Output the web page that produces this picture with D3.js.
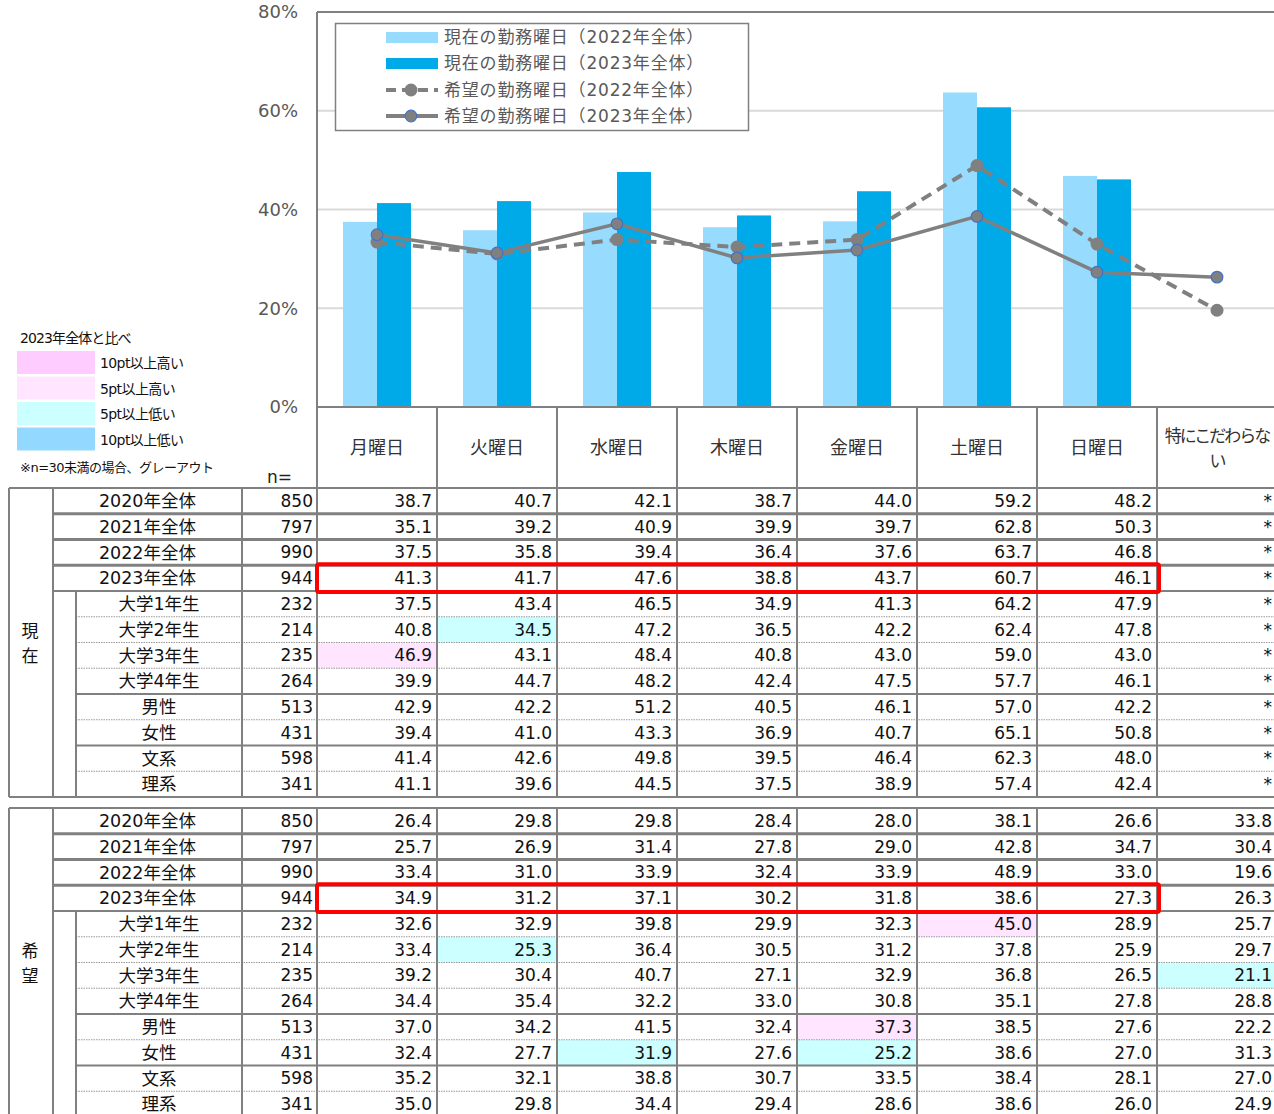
<!DOCTYPE html>
<html>
<head>
<meta charset="utf-8">
<script src="https://cdn.jsdelivr.net/npm/d3@7"></script>
<style>
  body { margin: 0; background: #fff; }
  svg { display: block; font-family: "DejaVu Sans", "Noto Sans CJK JP", sans-serif; }
</style>
</head>
<body>
<div id="chart"></div>
<script>
// categories (days)
let categories = ["月曜日", "火曜日", "水曜日", "木曜日", "金曜日", "土曜日", "日曜日", "特にこだわらない"];

// chart series
let current2022 = [37.5, 35.8, 39.4, 36.4, 37.6, 63.7, 46.8];
let current2023 = [41.3, 41.7, 47.6, 38.8, 43.7, 60.7, 46.1];
let hope2022 = [33.4, 31.0, 33.9, 32.4, 33.9, 48.9, 33.0, 19.6];
let hope2023 = [34.9, 31.2, 37.1, 30.2, 31.8, 38.6, 27.3, 26.3];

let yTicks = [0, 20, 40, 60, 80];
let legendLabels = ["現在の勤務曜日（2022年全体）", "現在の勤務曜日（2023年全体）", "希望の勤務曜日（2022年全体）", "希望の勤務曜日（2023年全体）"];

// table rows
let rowLabels = ["2020年全体", "2021年全体", "2022年全体", "2023年全体", "大学1年生", "大学2年生", "大学3年生", "大学4年生", "男性", "女性", "文系", "理系"];
let rowN = [850, 797, 990, 944, 232, 214, 235, 264, 513, 431, 598, 341];

let currentTable = [
    [38.7, 40.7, 42.1, 38.7, 44.0, 59.2, 48.2, null],
    [35.1, 39.2, 40.9, 39.9, 39.7, 62.8, 50.3, null],
    [37.5, 35.8, 39.4, 36.4, 37.6, 63.7, 46.8, null],
    [41.3, 41.7, 47.6, 38.8, 43.7, 60.7, 46.1, null],
    [37.5, 43.4, 46.5, 34.9, 41.3, 64.2, 47.9, null],
    [40.8, 34.5, 47.2, 36.5, 42.2, 62.4, 47.8, null],
    [46.9, 43.1, 48.4, 40.8, 43.0, 59.0, 43.0, null],
    [39.9, 44.7, 48.2, 42.4, 47.5, 57.7, 46.1, null],
    [42.9, 42.2, 51.2, 40.5, 46.1, 57.0, 42.2, null],
    [39.4, 41.0, 43.3, 36.9, 40.7, 65.1, 50.8, null],
    [41.4, 42.6, 49.8, 39.5, 46.4, 62.3, 48.0, null],
    [41.1, 39.6, 44.5, 37.5, 38.9, 57.4, 42.4, null]
];

let hopeTable = [
    [26.4, 29.8, 29.8, 28.4, 28.0, 38.1, 26.6, 33.8],
    [25.7, 26.9, 31.4, 27.8, 29.0, 42.8, 34.7, 30.4],
    [33.4, 31.0, 33.9, 32.4, 33.9, 48.9, 33.0, 19.6],
    [34.9, 31.2, 37.1, 30.2, 31.8, 38.6, 27.3, 26.3],
    [32.6, 32.9, 39.8, 29.9, 32.3, 45.0, 28.9, 25.7],
    [33.4, 25.3, 36.4, 30.5, 31.2, 37.8, 25.9, 29.7],
    [39.2, 30.4, 40.7, 27.1, 32.9, 36.8, 26.5, 21.1],
    [34.4, 35.4, 32.2, 33.0, 30.8, 35.1, 27.8, 28.8],
    [37.0, 34.2, 41.5, 32.4, 37.3, 38.5, 27.6, 22.2],
    [32.4, 27.7, 31.9, 27.6, 25.2, 38.6, 27.0, 31.3],
    [35.2, 32.1, 38.8, 30.7, 33.5, 38.4, 28.1, 27.0],
    [35.0, 29.8, 34.4, 29.4, 28.6, 38.6, 26.0, 24.9]
];

let keyLabels = ["10pt以上高い", "5pt以上高い", "5pt以上低い", "10pt以上低い"];
let keyColors = ["#ffccff", "#ffe5ff", "#ccffff", "#93d9ff"];

let svgWidth = 1274;
let svgHeight = 1114;

let svg = d3.select("#chart")
    .append("svg")
    .attr("width", svgWidth)
    .attr("height", svgHeight);

let gridColor = "#808080";

// scales
let x = d3.scaleBand().domain(categories).range([317, 1277]);
let xBar = d3.scaleBand().domain(["2022", "2023"]).range([26, 94]);
let y = d3.scaleLinear().domain([0, 80]).range([407, 12]);

// gridlines
svg.append("g")
    .selectAll("line")
    .data(yTicks.filter(d => d > 0 && d < 80))
    .join("line")
    .attr("x1", 317).attr("x2", svgWidth)
    .attr("y1", d => y(d)).attr("y2", d => y(d))
    .attr("stroke", "#d9d9d9")
    .attr("stroke-width", 2);

// y axis labels
let yAxis = svg.append("g")
    .attr("transform", "translate(317,0)")
    .call(d3.axisLeft(y).tickValues(yTicks).tickFormat(d => d + "%").tickSize(0).tickPadding(19));
yAxis.select(".domain").remove();
yAxis.selectAll("text")
    .attr("font-size", 18)
    .attr("fill", "#595959")
    .attr("font-family", "DejaVu Sans, sans-serif");

// bars
let barData = [];
current2022.forEach((v, i) => barData.push({ cat: categories[i], year: "2022", v: v }));
current2023.forEach((v, i) => barData.push({ cat: categories[i], year: "2023", v: v }));

svg.append("g")
    .selectAll("rect")
    .data(barData)
    .join("rect")
    .attr("x", d => x(d.cat) + xBar(d.year))
    .attr("y", d => y(d.v))
    .attr("width", xBar.bandwidth())
    .attr("height", d => y(0) - y(d.v))
    .attr("fill", d => d.year === "2022" ? "#97dbff" : "#00aae9");

// lines
let cx = (d, i) => x(categories[i]) + x.bandwidth() / 2;
let line = d3.line().x(cx).y(d => y(d));

svg.append("path")
    .datum(hope2022)
    .attr("d", line)
    .attr("fill", "none")
    .attr("stroke", "#808080")
    .attr("stroke-width", 4)
    .attr("stroke-dasharray", "11,7");

svg.append("path")
    .datum(hope2023)
    .attr("d", line)
    .attr("fill", "none")
    .attr("stroke", "#808080")
    .attr("stroke-width", 3.5);

svg.append("g")
    .selectAll("circle")
    .data(hope2022)
    .join("circle")
    .attr("cx", cx)
    .attr("cy", d => y(d))
    .attr("r", 6.5)
    .attr("fill", "#808080");

svg.append("g")
    .selectAll("circle")
    .data(hope2023)
    .join("circle")
    .attr("cx", cx)
    .attr("cy", d => y(d))
    .attr("r", 5.8)
    .attr("fill", "#808080")
    .attr("stroke", "#4472c4")
    .attr("stroke-width", 1.2);

// plot frame: top + bottom
svg.append("line").attr("x1", 317).attr("x2", svgWidth).attr("y1", 12).attr("y2", 12)
    .attr("stroke", gridColor).attr("stroke-width", 2);
svg.append("line").attr("x1", 317).attr("x2", svgWidth).attr("y1", 407).attr("y2", 407)
    .attr("stroke", gridColor).attr("stroke-width", 2);

// legend
let legend = svg.append("g");
legend.append("rect")
    .attr("x", 335.5).attr("y", 23.5).attr("width", 413).attr("height", 107)
    .attr("fill", "#fff").attr("stroke", gridColor).attr("stroke-width", 1.5);

let legendY = [37, 63, 90, 116];
legendLabels.forEach((label, i) => {
    let ly = legendY[i];
    if (i < 2) {
        legend.append("rect")
            .attr("x", 386).attr("y", ly - 5).attr("width", 52).attr("height", 11)
            .attr("fill", i === 0 ? "#97dbff" : "#00aae9");
    } else {
        legend.append("line")
            .attr("x1", 386).attr("x2", 438).attr("y1", ly).attr("y2", ly)
            .attr("stroke", "#808080").attr("stroke-width", 4)
            .attr("stroke-dasharray", i === 2 ? "10,6" : null);
        legend.append("circle")
            .attr("cx", 411).attr("cy", ly).attr("r", i === 2 ? 6.5 : 5.8)
            .attr("fill", "#808080")
            .attr("stroke", i === 3 ? "#4472c4" : null)
            .attr("stroke-width", 1.2);
    }
    legend.append("text")
        .attr("x", 444).attr("y", ly).attr("dy", "0.36em")
        .attr("font-size", 17).attr("letter-spacing", 0.8).attr("fill", "#595959")
        .text(label);
});

// header row of table
let headTop = 407, tableTop = 488, rowH = 25.75;

svg.append("g")
    .selectAll("line")
    .data(categories)
    .join("line")
    .attr("x1", d => x(d)).attr("x2", d => x(d))
    .attr("y1", (d, i) => i === 0 ? 12 : headTop)
    .attr("y2", tableTop)
    .attr("stroke", gridColor)
    .attr("stroke-width", 2);

svg.append("g")
    .selectAll("text")
    .data(categories)
    .join("text")
    .attr("x", d => x(d) + x.bandwidth() / 2)
    .attr("y", 448)
    .attr("dy", "0.36em")
    .attr("text-anchor", "middle")
    .attr("font-size", 18)
    .attr("fill", "#333")
    .each(function(d) {
        let t = d3.select(this);
        if (d.length > 6) {
            t.attr("font-size", 17).attr("letter-spacing", -2).attr("dy", null);
            t.append("tspan").attr("x", x(d) + x.bandwidth() / 2).attr("y", 442).text(d.slice(0, 7));
            t.append("tspan").attr("x", x(d) + x.bandwidth() / 2).attr("y", 467).text(d.slice(7));
        } else {
            t.text(d);
        }
    });

svg.append("text")
    .attr("x", 292).attr("y", 477).attr("dy", "0.36em")
    .attr("text-anchor", "end").attr("font-size", 17).attr("fill", "#222")
    .text("n=");

// colour key on the left
let key = svg.append("g");
key.append("text")
    .attr("x", 20).attr("y", 338).attr("dy", "0.36em")
    .attr("font-size", 14).attr("letter-spacing", -0.9).attr("fill", "#111")
    .text("2023年全体と比べ");
keyLabels.forEach((label, i) => {
    let ky = 351 + i * 25.5;
    key.append("rect")
        .attr("x", 17).attr("y", ky).attr("width", 78).attr("height", 23)
        .attr("fill", keyColors[i]);
    key.append("text")
        .attr("x", 100).attr("y", ky + 12).attr("dy", "0.36em")
        .attr("font-size", 14).attr("letter-spacing", -0.6).attr("fill", "#111")
        .text(label);
});
key.append("text")
    .attr("x", 20).attr("y", 467).attr("dy", "0.36em")
    .attr("font-size", 13).attr("letter-spacing", -0.5).attr("fill", "#111")
    .text("※n=30未満の場合、グレーアウト");

// cell colour versus 2023 total row
function cellColor(v, base) {
    if (v == null) return null;
    let diff = v - base;
    if (diff >= 10) return keyColors[0];
    if (diff > 5) return keyColors[1];
    if (diff <= -10) return keyColors[3];
    if (diff < -5) return keyColors[2];
    return null;
}

function drawSection(top, sectionLabel, values) {
    let g = svg.append("g");
    let rowY = i => top + i * rowH;
    let bottom = rowY(rowLabels.length);

    // highlighted cells (sub rows compared with 2023 row)
    values.forEach((row, i) => {
        if (i < 4) return;
        row.forEach((v, j) => {
            let c = cellColor(v, values[3][j]);
            if (c) {
                g.append("rect")
                    .attr("x", x(categories[j])).attr("y", rowY(i))
                    .attr("width", x.bandwidth()).attr("height", rowH)
                    .attr("fill", c);
            }
        });
    });

    // horizontal separators
    rowLabels.forEach((r, i) => {
        if (i === 0) return;
        let ly = rowY(i);
        let x1 = i <= 4 ? 53 : 76;
        let sw = i <= 3 ? 3 : 2;
        let dotted = i > 4 && i !== 8 && i !== 10;
        g.append("line")
            .attr("x1", x1).attr("x2", svgWidth)
            .attr("y1", ly).attr("y2", ly)
            .attr("stroke", dotted ? "#9a9a9a" : gridColor)
            .attr("stroke-width", dotted ? 1.2 : sw)
            .attr("stroke-dasharray", dotted ? "1.5,1" : null);
    });

    // outer box lines
    [top, bottom].forEach(ly => {
        g.append("line")
            .attr("x1", 9).attr("x2", svgWidth)
            .attr("y1", ly).attr("y2", ly)
            .attr("stroke", gridColor).attr("stroke-width", 2);
    });

    // verticals
    let vlines = [9, 53, 242].concat(categories.map(c => x(c)));
    vlines.forEach(vx => {
        g.append("line")
            .attr("x1", vx).attr("x2", vx)
            .attr("y1", top).attr("y2", bottom)
            .attr("stroke", gridColor).attr("stroke-width", 2);
    });
    g.append("line")
        .attr("x1", 76).attr("x2", 76)
        .attr("y1", rowY(4)).attr("y2", bottom)
        .attr("stroke", gridColor).attr("stroke-width", 2);

    // section label, stacked vertically
    let mid = (top + bottom) / 2;
    sectionLabel.split("").forEach((ch, k) => {
        g.append("text")
            .attr("x", 30).attr("y", mid - 12 + k * 25).attr("dy", "0.36em")
            .attr("text-anchor", "middle").attr("font-size", 17).attr("fill", "#111")
            .text(ch);
    });

    // row labels and n
    rowLabels.forEach((r, i) => {
        let cy = rowY(i) + rowH / 2;
        g.append("text")
            .attr("x", i < 4 ? 147.5 : 159).attr("y", cy).attr("dy", "0.36em")
            .attr("text-anchor", "middle").attr("font-size", 17.5).attr("fill", "#111")
            .text(r);
        g.append("text")
            .attr("x", 313).attr("y", cy).attr("dy", "0.36em")
            .attr("text-anchor", "end").attr("font-size", 17).attr("fill", "#111")
            .text(rowN[i]);
        values[i].forEach((v, j) => {
            g.append("text")
                .attr("x", x(categories[j]) + x.bandwidth() - 5).attr("y", cy).attr("dy", "0.36em")
                .attr("text-anchor", "end").attr("font-size", 17).attr("fill", "#111")
                .text(v == null ? "*" : v.toFixed(1));
        });
    });

    // red box round 2023 total row
    g.append("rect")
        .attr("x", x(categories[0])).attr("y", rowY(3) - 1)
        .attr("width", x(categories[7]) - x(categories[0]) + 2).attr("height", rowH + 2)
        .attr("rx", 2)
        .attr("fill", "none").attr("stroke", "#ff0000").attr("stroke-width", 4);
}

drawSection(tableTop, "現在", currentTable);
drawSection(808, "希望", hopeTable);
</script>
</body>
</html>
